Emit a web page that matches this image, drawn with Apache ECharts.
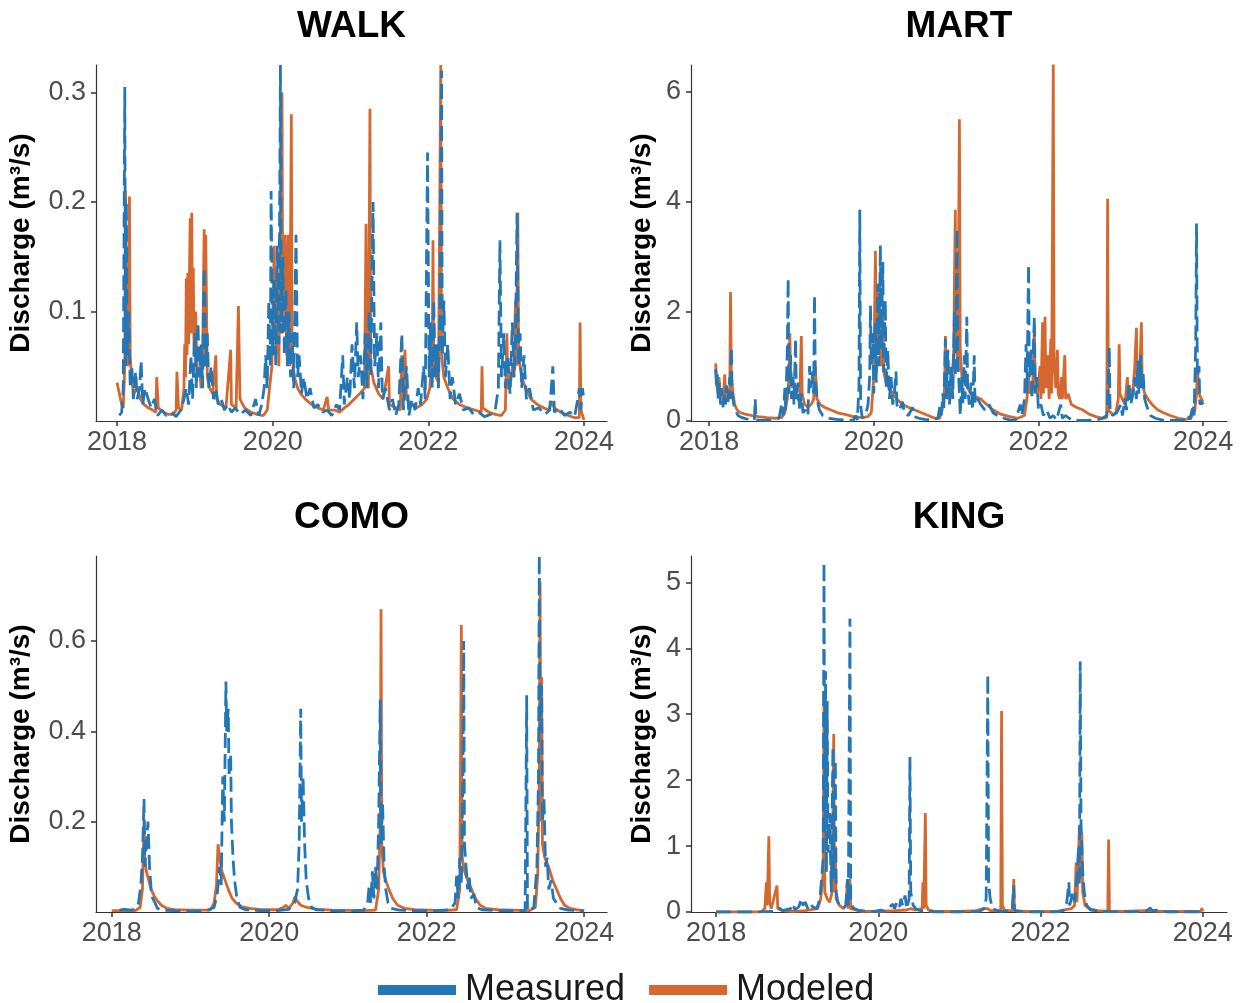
<!DOCTYPE html>
<html><head><meta charset="utf-8">
<script src="https://cdn.jsdelivr.net/npm/echarts@6/dist/echarts.min.js"></script>
<style>html,body{margin:0;padding:0;background:#fff}#c{width:1247px;height:1003px}</style>
</head><body><div id="c"></div>
<script>
// ---------- tick labels ----------
const xTicks = [2018, 2020, 2022, 2024];
const walkYTicks = [0.1, 0.2, 0.3];
const martYTicks = [0, 2, 4, 6];
const comoYTicks = [0.2, 0.4, 0.6];
const kingYTicks = [0, 1, 2, 3, 4, 5];
const siteNames = ['WALK', 'MART', 'COMO', 'KING'];
const seriesNames = ['Measured', 'Modeled'];

// ---------- data: [decimal year, discharge m3/s] ----------
const walkMeasured = [[2018.03,0.005],[2018.06,0.008],[2018.08,0.03],[2018.10,0.305],[2018.11,0.05],[2018.12,0.2],[2018.13,0.06],[2018.15,0.1],[2018.17,0.03],[2018.19,0.05],[2018.21,0.02],[2018.24,0.045],[2018.26,0.02],[2018.29,0.03],[2018.31,0.055],[2018.33,0.015],[2018.36,0.03],[2018.40,0.02],[2018.44,0.012],[2018.48,0.02],[2018.52,0.005],[2018.58,0.01],[2018.63,0.005],[2018.70,0.008],[2018.76,0.004],[2018.82,0.01],[2018.86,0.02],[2018.89,0.03],[2018.92,0.015],[2018.95,0.06],[2018.97,0.02],[2019.00,0.08],[2019.02,0.03],[2019.04,0.09],[2019.06,0.04],[2019.08,0.07],[2019.10,0.03],[2019.12,0.14],[2019.14,0.05],[2019.16,0.08],[2019.18,0.03],[2019.21,0.05],[2019.24,0.02],[2019.27,0.03],[2019.30,0.015],[2019.34,0.02],[2019.38,0.01],[2019.42,0.015],[2019.47,0.008],[2019.52,0.012],[2019.58,0.006],[2019.65,0.01],[2019.72,0.005],[2019.78,0.02],[2019.82,0.005],[2019.86,0.015],[2019.89,0.03],[2019.91,0.06],[2019.93,0.03],[2019.95,0.11],[2019.97,0.05],[2019.98,0.21],[2020.00,0.06],[2020.02,0.13],[2020.04,0.05],[2020.06,0.16],[2020.08,0.07],[2020.10,0.325],[2020.11,0.08],[2020.13,0.15],[2020.15,0.06],[2020.17,0.12],[2020.19,0.05],[2020.21,0.1],[2020.23,0.04],[2020.25,0.08],[2020.27,0.03],[2020.30,0.17],[2020.32,0.04],[2020.34,0.06],[2020.37,0.025],[2020.40,0.04],[2020.44,0.02],[2020.48,0.03],[2020.53,0.012],[2020.58,0.015],[2020.64,0.008],[2020.70,0.01],[2020.76,0.005],[2020.82,0.015],[2020.86,0.01],[2020.90,0.06],[2020.92,0.015],[2020.96,0.04],[2020.99,0.02],[2021.02,0.07],[2021.05,0.03],[2021.08,0.09],[2021.10,0.04],[2021.13,0.06],[2021.16,0.02],[2021.19,0.08],[2021.21,0.03],[2021.24,0.1],[2021.26,0.04],[2021.29,0.2],[2021.31,0.05],[2021.34,0.08],[2021.36,0.03],[2021.39,0.09],[2021.41,0.02],[2021.45,0.03],[2021.50,0.01],[2021.54,0.02],[2021.58,0.005],[2021.62,0.015],[2021.66,0.08],[2021.68,0.01],[2021.72,0.05],[2021.75,0.005],[2021.79,0.02],[2021.83,0.01],[2021.87,0.03],[2021.90,0.015],[2021.94,0.05],[2021.96,0.02],[2021.99,0.245],[2022.01,0.04],[2022.03,0.09],[2022.05,0.03],[2022.07,0.11],[2022.09,0.04],[2022.11,0.07],[2022.13,0.03],[2022.15,0.1],[2022.17,0.32],[2022.18,0.06],[2022.20,0.11],[2022.22,0.04],[2022.25,0.07],[2022.28,0.02],[2022.31,0.04],[2022.35,0.015],[2022.40,0.025],[2022.45,0.01],[2022.52,0.012],[2022.58,0.006],[2022.65,0.008],[2022.72,0.004],[2022.80,0.006],[2022.86,0.01],[2022.90,0.03],[2022.92,0.165],[2022.94,0.04],[2022.97,0.08],[2022.99,0.03],[2023.02,0.06],[2023.05,0.025],[2023.08,0.09],[2023.10,0.04],[2023.12,0.07],[2023.14,0.19],[2023.16,0.05],[2023.18,0.08],[2023.20,0.03],[2023.23,0.06],[2023.26,0.02],[2023.30,0.03],[2023.35,0.01],[2023.42,0.012],[2023.50,0.006],[2023.56,0.01],[2023.60,0.05],[2023.62,0.008],[2023.68,0.012],[2023.75,0.005],[2023.82,0.008],[2023.88,0.004],[2023.92,0.02],[2023.94,0.03],[2023.96,0.01],[2023.98,0.03],[2024.0,0.02]];
const walkModeled = [[2018.0,0.035],[2018.03,0.025],[2018.06,0.015],[2018.08,0.012],[2018.10,0.05],[2018.11,0.21],[2018.12,0.08],[2018.14,0.05],[2018.16,0.205],[2018.17,0.06],[2018.19,0.035],[2018.22,0.025],[2018.26,0.03],[2018.30,0.02],[2018.35,0.015],[2018.40,0.012],[2018.46,0.01],[2018.50,0.008],[2018.51,0.04],[2018.53,0.012],[2018.60,0.008],[2018.66,0.006],[2018.72,0.006],[2018.76,0.01],[2018.77,0.045],[2018.79,0.012],[2018.83,0.01],[2018.86,0.03],[2018.87,0.07],[2018.88,0.04],[2018.89,0.13],[2018.90,0.06],[2018.91,0.135],[2018.92,0.07],[2018.94,0.185],[2018.95,0.08],[2018.96,0.19],[2018.97,0.09],[2018.98,0.14],[2018.99,0.06],[2019.01,0.1],[2019.03,0.04],[2019.06,0.05],[2019.08,0.03],[2019.10,0.06],[2019.12,0.175],[2019.13,0.05],[2019.14,0.17],[2019.16,0.04],[2019.19,0.03],[2019.23,0.025],[2019.27,0.06],[2019.28,0.02],[2019.33,0.015],[2019.40,0.012],[2019.46,0.065],[2019.47,0.015],[2019.53,0.012],[2019.56,0.105],[2019.58,0.02],[2019.64,0.012],[2019.72,0.008],[2019.80,0.006],[2019.88,0.005],[2019.93,0.01],[2019.96,0.03],[2019.99,0.05],[2020.02,0.16],[2020.04,0.06],[2020.06,0.13],[2020.08,0.05],[2020.12,0.3],[2020.13,0.08],[2020.16,0.17],[2020.18,0.06],[2020.20,0.17],[2020.22,0.05],[2020.24,0.28],[2020.25,0.06],[2020.28,0.04],[2020.32,0.03],[2020.36,0.025],[2020.42,0.02],[2020.50,0.015],[2020.58,0.012],[2020.65,0.01],[2020.70,0.022],[2020.72,0.01],[2020.80,0.01],[2020.86,0.008],[2020.92,0.012],[2020.98,0.015],[2021.05,0.02],[2021.12,0.025],[2021.18,0.03],[2021.20,0.18],[2021.21,0.04],[2021.23,0.03],[2021.25,0.285],[2021.26,0.05],[2021.30,0.035],[2021.36,0.025],[2021.42,0.02],[2021.49,0.05],[2021.50,0.015],[2021.58,0.012],[2021.64,0.01],[2021.66,0.06],[2021.67,0.02],[2021.70,0.065],[2021.72,0.02],[2021.78,0.015],[2021.85,0.012],[2021.92,0.015],[2021.98,0.02],[2022.02,0.03],[2022.05,0.06],[2022.06,0.165],[2022.07,0.05],[2022.10,0.04],[2022.13,0.035],[2022.16,0.325],[2022.17,0.06],[2022.20,0.04],[2022.25,0.03],[2022.32,0.02],[2022.40,0.015],[2022.50,0.012],[2022.60,0.01],[2022.68,0.008],[2022.69,0.05],[2022.70,0.012],[2022.78,0.008],[2022.86,0.006],[2022.94,0.005],[2022.99,0.01],[2023.01,0.08],[2023.02,0.03],[2023.05,0.03],[2023.08,0.05],[2023.10,0.04],[2023.12,0.11],[2023.13,0.05],[2023.15,0.19],[2023.16,0.06],[2023.20,0.04],[2023.25,0.03],[2023.32,0.02],[2023.40,0.015],[2023.48,0.012],[2023.55,0.01],[2023.58,0.018],[2023.62,0.012],[2023.70,0.008],[2023.80,0.005],[2023.88,0.003],[2023.94,0.003],[2023.95,0.09],[2023.96,0.01],[2024.0,0.001]];

const martMeasured = [[2018.08,0.95],[2018.09,0.6],[2018.10,0.85],[2018.11,0.4],[2018.12,0.7],[2018.14,0.3],[2018.15,0.6],[2018.17,0.25],[2018.18,0.5],[2018.20,0.3],[2018.21,0.65],[2018.23,0.35],[2018.25,0.8],[2018.26,0.4],[2018.27,1.35],[2018.28,0.5],[2018.30,0.3],[2018.32,0.2],[2018.35,0.1],[2018.40,0.06],[2018.45,0.04],[2018.50,0.03],[2018.55,0.02],[2018.56,0.4],[2018.57,0.02],[2018.65,0.01],[2018.75,0.01],[2018.85,0.05],[2018.88,0.3],[2018.90,0.1],[2018.92,0.6],[2018.93,0.2],[2018.95,1.3],[2018.96,2.6],[2018.97,0.5],[2018.99,1.2],[2019.00,0.4],[2019.02,0.8],[2019.03,0.3],[2019.05,1.5],[2019.06,0.4],[2019.08,0.7],[2019.10,0.2],[2019.12,0.5],[2019.14,0.15],[2019.17,0.2],[2019.20,0.1],[2019.22,1.0],[2019.23,0.6],[2019.25,0.9],[2019.27,0.5],[2019.28,2.3],[2019.29,0.8],[2019.31,0.4],[2019.34,0.2],[2019.38,0.1],[2019.45,0.05],[2019.55,0.03],[2019.65,0.02],[2019.75,0.01],[2019.78,0.1],[2019.80,0.02],[2019.82,0.6],[2019.83,3.85],[2019.84,0.3],[2019.86,0.05],[2019.90,0.1],[2019.93,0.3],[2019.95,0.8],[2019.96,2.1],[2019.97,1.0],[2019.99,1.6],[2020.00,0.5],[2020.02,1.8],[2020.03,0.7],[2020.05,2.5],[2020.06,1.0],[2020.08,3.2],[2020.09,1.3],[2020.11,2.9],[2020.12,0.9],[2020.14,2.2],[2020.15,0.6],[2020.17,1.3],[2020.19,0.4],[2020.21,0.8],[2020.23,0.3],[2020.25,0.5],[2020.27,0.9],[2020.28,0.3],[2020.31,0.2],[2020.35,0.35],[2020.37,0.15],[2020.42,0.1],[2020.47,0.25],[2020.49,0.08],[2020.55,0.05],[2020.62,0.03],[2020.70,0.02],[2020.78,0.05],[2020.80,0.25],[2020.82,0.1],[2020.84,0.5],[2020.85,0.2],[2020.87,1.5],[2020.88,0.4],[2020.90,1.3],[2020.92,0.3],[2020.94,1.0],[2020.96,0.4],[2020.98,2.0],[2020.99,0.8],[2021.01,3.5],[2021.02,1.2],[2021.04,0.5],[2021.05,0.1],[2021.07,0.8],[2021.08,0.3],[2021.10,1.2],[2021.11,0.4],[2021.13,1.9],[2021.14,0.6],[2021.16,0.3],[2021.18,0.7],[2021.20,0.2],[2021.22,1.2],[2021.23,0.3],[2021.26,0.4],[2021.30,0.3],[2021.35,0.2],[2021.40,0.3],[2021.45,0.15],[2021.50,0.1],[2021.58,0.05],[2021.65,0.02],[2021.72,0.01],[2021.78,0.3],[2021.80,0.1],[2021.83,0.4],[2021.85,1.4],[2021.86,0.5],[2021.88,2.85],[2021.89,0.8],[2021.91,1.3],[2021.92,0.4],[2021.95,1.9],[2021.96,0.5],[2021.98,0.8],[2022.00,0.2],[2022.03,0.3],[2022.06,0.1],[2022.10,0.2],[2022.14,0.05],[2022.18,0.1],[2022.22,0.02],[2022.27,0.3],[2022.29,0.05],[2022.33,0.1],[2022.40,0.02],[2022.50,0.01],[2022.60,0.01],[2022.70,0.02],[2022.78,0.05],[2022.83,0.1],[2022.85,0.8],[2022.86,1.35],[2022.87,0.2],[2022.90,0.1],[2022.95,0.15],[2023.00,0.3],[2023.02,0.1],[2023.05,0.4],[2023.07,0.2],[2023.10,0.7],[2023.12,0.3],[2023.15,0.5],[2023.17,0.8],[2023.19,0.4],[2023.21,1.1],[2023.22,0.5],[2023.24,1.2],[2023.25,0.6],[2023.27,0.9],[2023.29,0.4],[2023.32,0.25],[2023.36,0.1],[2023.42,0.05],[2023.50,0.02],[2023.60,0.01],[2023.70,0.01],[2023.78,0.02],[2023.82,0.1],[2023.84,0.03],[2023.88,0.3],[2023.89,0.1],[2023.91,1.4],[2023.92,3.6],[2023.93,0.8],[2023.95,1.0],[2023.96,0.3],[2023.98,0.35],[2024.0,0.3]];
const martModeled = [[2018.08,1.05],[2018.09,0.7],[2018.11,0.5],[2018.12,0.8],[2018.14,0.45],[2018.16,0.55],[2018.17,0.35],[2018.19,0.85],[2018.20,0.45],[2018.22,0.4],[2018.24,0.6],[2018.25,0.4],[2018.26,2.35],[2018.27,0.8],[2018.29,0.5],[2018.31,0.3],[2018.34,0.2],[2018.38,0.15],[2018.45,0.12],[2018.52,0.1],[2018.60,0.08],[2018.70,0.06],[2018.80,0.05],[2018.88,0.06],[2018.92,0.15],[2018.95,0.4],[2018.97,0.8],[2018.98,1.6],[2018.99,0.9],[2019.01,0.6],[2019.03,0.7],[2019.05,0.5],[2019.08,0.4],[2019.10,0.35],[2019.12,1.55],[2019.13,0.5],[2019.16,0.3],[2019.20,0.25],[2019.24,0.3],[2019.27,0.4],[2019.29,1.0],[2019.31,0.4],[2019.35,0.3],[2019.40,0.25],[2019.48,0.2],[2019.56,0.15],[2019.65,0.12],[2019.75,0.08],[2019.85,0.06],[2019.93,0.08],[2019.97,0.15],[2020.00,0.8],[2020.02,3.1],[2020.03,1.2],[2020.05,2.5],[2020.07,1.5],[2020.09,1.0],[2020.11,2.0],[2020.12,0.9],[2020.15,0.7],[2020.19,0.6],[2020.23,0.5],[2020.28,0.4],[2020.35,0.3],[2020.42,0.25],[2020.50,0.2],[2020.58,0.15],[2020.66,0.1],[2020.74,0.05],[2020.80,0.05],[2020.83,0.2],[2020.86,0.6],[2020.87,1.55],[2020.88,0.5],[2020.91,0.4],[2020.94,0.6],[2020.97,1.2],[2020.99,3.85],[2021.00,1.5],[2021.02,0.9],[2021.04,5.5],[2021.05,1.3],[2021.07,0.8],[2021.10,0.7],[2021.14,0.6],[2021.18,0.5],[2021.23,0.45],[2021.30,0.4],[2021.37,0.3],[2021.45,0.2],[2021.55,0.12],[2021.65,0.08],[2021.75,0.05],[2021.83,0.1],[2021.86,0.4],[2021.88,0.8],[2021.90,0.5],[2021.93,0.6],[2021.95,1.7],[2021.96,0.6],[2021.99,0.5],[2022.02,1.0],[2022.03,0.4],[2022.05,1.8],[2022.06,0.5],[2022.08,1.9],[2022.09,0.6],[2022.11,1.2],[2022.13,0.4],[2022.15,1.5],[2022.16,0.5],[2022.18,6.5],[2022.19,1.0],[2022.21,0.6],[2022.23,1.3],[2022.24,0.5],[2022.26,0.4],[2022.28,0.8],[2022.29,0.4],[2022.32,1.2],[2022.33,0.4],[2022.36,0.5],[2022.40,0.3],[2022.46,0.25],[2022.54,0.2],[2022.62,0.12],[2022.70,0.08],[2022.78,0.05],[2022.83,0.06],[2022.84,4.05],[2022.85,0.2],[2022.90,0.12],[2022.94,0.15],[2022.97,0.4],[2022.98,1.4],[2022.99,0.5],[2023.02,0.4],[2023.05,0.3],[2023.08,0.8],[2023.09,0.4],[2023.12,0.5],[2023.15,0.6],[2023.17,1.0],[2023.19,1.7],[2023.20,0.6],[2023.23,0.8],[2023.25,1.8],[2023.26,0.7],[2023.29,0.5],[2023.33,0.4],[2023.38,0.3],[2023.45,0.2],[2023.52,0.15],[2023.60,0.1],[2023.70,0.05],[2023.78,0.03],[2023.85,0.05],[2023.90,0.2],[2023.92,0.5],[2023.93,1.0],[2023.95,0.5],[2023.98,0.4],[2024.0,0.35]];

const comoMeasured = [[2018.10,0.004],[2018.15,0.006],[2018.20,0.005],[2018.25,0.004],[2018.30,0.008],[2018.34,0.02],[2018.37,0.06],[2018.39,0.12],[2018.41,0.25],[2018.42,0.1],[2018.44,0.15],[2018.46,0.2],[2018.48,0.1],[2018.50,0.05],[2018.52,0.03],[2018.55,0.02],[2018.58,0.008],[2018.65,0.004],[2018.80,0.003],[2019.00,0.002],[2019.20,0.003],[2019.30,0.01],[2019.34,0.04],[2019.37,0.1],[2019.39,0.06],[2019.41,0.3],[2019.43,0.2],[2019.45,0.51],[2019.46,0.4],[2019.48,0.45],[2019.49,0.3],[2019.51,0.35],[2019.52,0.2],[2019.54,0.12],[2019.56,0.07],[2019.59,0.03],[2019.63,0.01],[2019.70,0.005],[2019.90,0.003],[2020.10,0.003],[2020.25,0.006],[2020.32,0.02],[2020.36,0.05],[2020.38,0.15],[2020.40,0.45],[2020.41,0.2],[2020.43,0.3],[2020.45,0.15],[2020.47,0.07],[2020.50,0.03],[2020.54,0.01],[2020.60,0.005],[2020.80,0.003],[2021.00,0.002],[2021.20,0.004],[2021.25,0.02],[2021.27,0.06],[2021.29,0.02],[2021.31,0.09],[2021.33,0.03],[2021.35,0.1],[2021.37,0.05],[2021.39,0.2],[2021.41,0.47],[2021.42,0.15],[2021.44,0.24],[2021.46,0.1],[2021.48,0.05],[2021.51,0.02],[2021.55,0.008],[2021.65,0.004],[2021.85,0.003],[2022.10,0.003],[2022.30,0.005],[2022.36,0.02],[2022.38,0.08],[2022.40,0.03],[2022.42,0.12],[2022.44,0.06],[2022.46,0.3],[2022.47,0.6],[2022.48,0.15],[2022.50,0.1],[2022.52,0.05],[2022.54,0.08],[2022.56,0.03],[2022.60,0.04],[2022.63,0.01],[2022.70,0.005],[2022.90,0.003],[2023.10,0.003],[2023.25,0.003],[2023.27,0.48],[2023.28,0.003],[2023.36,0.01],[2023.40,0.1],[2023.42,0.3],[2023.43,0.79],[2023.44,0.4],[2023.46,0.5],[2023.47,0.2],[2023.49,0.25],[2023.51,0.1],[2023.53,0.12],[2023.55,0.05],[2023.58,0.07],[2023.61,0.03],[2023.65,0.02],[2023.70,0.008],[2023.80,0.004],[2023.95,0.003],[2024.0,0.002]];
const comoModeled = [[2018.00,0.003],[2018.30,0.003],[2018.36,0.01],[2018.39,0.05],[2018.41,0.2],[2018.42,0.12],[2018.44,0.09],[2018.47,0.07],[2018.50,0.05],[2018.54,0.035],[2018.58,0.025],[2018.63,0.015],[2018.70,0.008],[2018.80,0.005],[2019.00,0.004],[2019.25,0.004],[2019.30,0.02],[2019.33,0.06],[2019.35,0.15],[2019.37,0.12],[2019.40,0.09],[2019.44,0.07],[2019.48,0.05],[2019.53,0.03],[2019.58,0.02],[2019.65,0.012],[2019.75,0.008],[2019.90,0.005],[2020.10,0.005],[2020.18,0.01],[2020.21,0.015],[2020.25,0.008],[2020.30,0.02],[2020.33,0.035],[2020.35,0.025],[2020.40,0.015],[2020.48,0.01],[2020.60,0.006],[2020.80,0.004],[2021.20,0.003],[2021.35,0.004],[2021.39,0.05],[2021.41,0.2],[2021.42,0.67],[2021.43,0.15],[2021.45,0.09],[2021.48,0.07],[2021.52,0.05],[2021.57,0.03],[2021.63,0.015],[2021.72,0.008],[2021.85,0.005],[2022.20,0.003],[2022.38,0.005],[2022.42,0.05],[2022.44,0.635],[2022.45,0.12],[2022.48,0.09],[2022.52,0.07],[2022.57,0.05],[2022.62,0.03],[2022.68,0.015],[2022.75,0.008],[2022.90,0.005],[2023.30,0.003],[2023.38,0.01],[2023.41,0.08],[2023.43,0.3],[2023.44,0.73],[2023.45,0.2],[2023.46,0.52],[2023.47,0.15],[2023.50,0.12],[2023.55,0.1],[2023.60,0.07],[2023.65,0.05],[2023.70,0.03],[2023.75,0.015],[2023.82,0.008],[2023.90,0.005],[2024.0,0.003]];

const kingMeasured = [[2018.0,0.0],[2018.5,0.0],[2018.7,0.01],[2018.78,0.06],[2018.82,0.02],[2018.92,0.05],[2018.95,0.12],[2018.97,0.03],[2019.02,0.08],[2019.05,0.2],[2019.07,0.1],[2019.10,0.15],[2019.13,0.05],[2019.16,0.12],[2019.19,0.08],[2019.24,0.05],[2019.28,0.2],[2019.30,0.5],[2019.32,0.8],[2019.33,5.3],[2019.34,1.2],[2019.35,3.65],[2019.36,0.6],[2019.37,3.2],[2019.38,0.9],[2019.40,1.5],[2019.42,0.3],[2019.44,2.5],[2019.45,0.5],[2019.47,2.3],[2019.48,0.3],[2019.50,0.15],[2019.53,0.1],[2019.57,0.06],[2019.60,0.1],[2019.62,0.5],[2019.63,0.1],[2019.65,4.45],[2019.66,0.2],[2019.69,0.06],[2019.75,0.03],[2019.85,0.01],[2019.95,0.01],[2020.03,0.03],[2020.08,0.01],[2020.18,0.12],[2020.20,0.05],[2020.23,0.15],[2020.26,0.08],[2020.28,0.2],[2020.30,0.1],[2020.33,0.25],[2020.35,0.05],[2020.38,0.2],[2020.39,2.35],[2020.40,0.3],[2020.43,0.1],[2020.47,0.04],[2020.55,0.01],[2020.70,0.0],[2021.0,0.0],[2021.25,0.01],[2021.30,0.05],[2021.33,0.2],[2021.35,3.6],[2021.36,0.45],[2021.38,0.2],[2021.41,0.05],[2021.50,0.01],[2021.65,0.02],[2021.67,0.4],[2021.68,0.02],[2021.80,0.0],[2022.2,0.0],[2022.28,0.02],[2022.32,0.1],[2022.35,0.45],[2022.36,0.1],[2022.40,0.3],[2022.42,0.15],[2022.45,0.5],[2022.47,1.0],[2022.48,0.4],[2022.49,3.8],[2022.50,1.35],[2022.52,0.6],[2022.54,0.3],[2022.57,0.1],[2022.62,0.03],[2022.75,0.01],[2023.0,0.0],[2023.30,0.01],[2023.35,0.06],[2023.38,0.02],[2023.45,0.03],[2023.55,0.0],[2024.0,0.0]];
const kingModeled = [[2018.0,0.0],[2018.55,0.0],[2018.60,0.05],[2018.62,0.45],[2018.63,0.1],[2018.65,1.15],[2018.66,0.15],[2018.68,0.05],[2018.75,0.4],[2018.76,0.05],[2018.82,0.02],[2018.95,0.01],[2019.10,0.02],[2019.25,0.05],[2019.29,0.2],[2019.32,0.6],[2019.33,3.3],[2019.34,0.3],[2019.37,0.2],[2019.40,0.15],[2019.43,0.3],[2019.45,2.7],[2019.46,0.3],[2019.47,1.0],[2019.48,0.2],[2019.52,0.1],[2019.57,0.05],[2019.60,0.1],[2019.62,0.5],[2019.63,0.05],[2019.65,0.5],[2019.66,0.05],[2019.72,0.03],[2019.80,0.01],[2020.0,0.01],[2020.2,0.02],[2020.35,0.03],[2020.40,0.05],[2020.45,0.03],[2020.54,0.05],[2020.55,0.45],[2020.56,0.05],[2020.58,1.5],[2020.59,0.1],[2020.62,0.03],[2020.70,0.01],[2021.0,0.01],[2021.20,0.02],[2021.30,0.05],[2021.35,0.05],[2021.38,0.02],[2021.51,0.02],[2021.52,3.05],[2021.53,0.1],[2021.56,0.02],[2021.66,0.02],[2021.67,0.5],[2021.68,0.02],[2021.80,0.01],[2022.2,0.01],[2022.38,0.05],[2022.42,0.1],[2022.44,0.75],[2022.45,0.15],[2022.48,1.3],[2022.49,0.5],[2022.51,1.2],[2022.52,0.3],[2022.55,0.1],[2022.60,0.05],[2022.70,0.02],[2022.83,0.01],[2022.84,1.1],[2022.85,0.01],[2023.0,0.01],[2023.3,0.02],[2023.5,0.01],[2023.98,0.01],[2023.99,0.06],[2024.0,0.01]];

// ---------- layout / style ----------
const FONT = '"Liberation Sans", Arial, Helvetica, sans-serif';
const BLUE = '#2377b7';
const ORANGE = '#d4682f';
const AXIS = '#333333';
const LABEL = '#4d4d4d';

const panels = [
  {measured: walkMeasured, modeled: walkModeled, yTicks: walkYTicks, yMax: 0.325, xMin: 2017.73, xMax: 2024.296, grid: {left: 96, top: 65, width: 511, height: 356}, nameGap: 61},
  {measured: martMeasured, modeled: martModeled, yTicks: martYTicks, yMax: 6.49, xMin: 2017.78, xMax: 2024.29, grid: {left: 691, top: 65, width: 536, height: 356}, nameGap: 35},
  {measured: comoMeasured, modeled: comoModeled, yTicks: comoYTicks, yMax: 0.788, xMin: 2017.80, xMax: 2024.29, grid: {left: 96, top: 556, width: 511, height: 356}, nameGap: 61},
  {measured: kingMeasured, modeled: kingModeled, yTicks: kingYTicks, yMax: 5.40, xMin: 2017.69, xMax: 2024.30, grid: {left: 691, top: 556, width: 536, height: 356}, nameGap: 35}
];

const grids = [], xAxes = [], yAxes = [], series = [], graphics = [];
panels.forEach((p, i) => {
  grids.push(Object.assign({containLabel: false}, p.grid));
  xAxes.push({
    type: 'value', gridIndex: i, min: p.xMin, max: p.xMax,
    splitLine: {show: false},
    axisLine: {show: true, onZero: false, lineStyle: {color: AXIS, width: 1.2}},
    axisTick: {show: true, length: 5, customValues: xTicks, lineStyle: {color: AXIS, width: 1.5}},
    axisLabel: {customValues: xTicks, formatter: v => String(v), color: LABEL, fontSize: 27, fontFamily: FONT, margin: 8}
  });
  yAxes.push({
    type: 'value', gridIndex: i, min: 0, max: p.yMax,
    name: 'Discharge (m³/s)', nameLocation: 'middle', nameGap: p.nameGap, nameRotate: 90,
    nameTextStyle: {fontSize: 28, fontWeight: 'bold', color: '#000', fontFamily: FONT},
    splitLine: {show: false},
    axisLine: {show: true, lineStyle: {color: AXIS, width: 1.2}},
    axisTick: {show: true, length: 5, customValues: p.yTicks, lineStyle: {color: AXIS, width: 1.5}},
    axisLabel: {customValues: p.yTicks, formatter: v => String(v), color: LABEL, fontSize: 27, fontFamily: FONT, margin: 10}
  });
  series.push({
    name: seriesNames[1], type: 'line', xAxisIndex: i, yAxisIndex: i, data: p.modeled,
    showSymbol: false, symbol: 'none', z: 2,
    lineStyle: {color: ORANGE, width: 2.8}, itemStyle: {color: ORANGE}
  });
  series.push({
    name: seriesNames[0], type: 'line', xAxisIndex: i, yAxisIndex: i, data: p.measured,
    showSymbol: false, symbol: 'none', z: 3,
    lineStyle: {color: BLUE, width: 2.8, type: [15, 6]}, itemStyle: {color: BLUE}
  });
  graphics.push({
    type: 'text', x: p.grid.left + p.grid.width / 2, y: p.grid.top - 38,
    style: {text: siteNames[i], font: 'bold 37px ' + FONT, fill: '#000', align: 'center', verticalAlign: 'middle'}
  });
});

const chart = echarts.init(document.getElementById('c'), null, {renderer: 'canvas'});
chart.setOption({
  backgroundColor: '#ffffff',
  animation: false,
  grid: grids, xAxis: xAxes, yAxis: yAxes, series: series,
  graphic: graphics,
  legend: {
    data: [{name: seriesNames[0], icon: 'rect'}, {name: seriesNames[1], icon: 'rect'}],
    left: 373, top: 967, itemWidth: 78, itemHeight: 10, itemGap: 24,
    itemStyle: {borderWidth: 0},
    textStyle: {fontSize: 36, color: '#1a1a1a', fontFamily: FONT, padding: [0, 0, 0, 4]},
    selectedMode: false
  }
});
</script></body></html>
